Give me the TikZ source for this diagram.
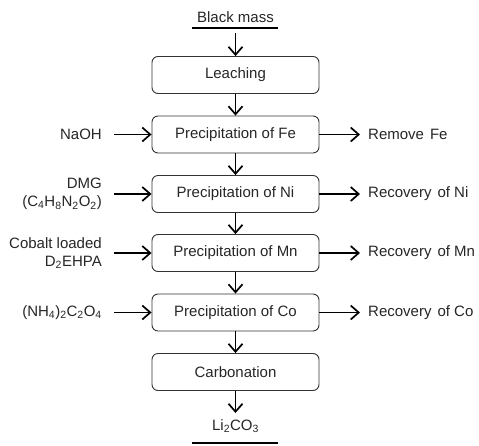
\documentclass[tikz,border=0pt]{standalone}
\usepackage{fontspec}
\setmainfont{Liberation Sans}
\usetikzlibrary{arrows.meta}
\newcommand\chsub[1]{\textsubscript{#1}}
\begin{document}
\begin{tikzpicture}[x=1pt,y=-1pt,
  every node/.style={font=\fontsize{15}{19}\selectfont, text=black!85},
  stepbox/.style={draw=black!80, line width=0.9pt, rounded corners=6pt,
    minimum width=167pt, minimum height=37pt, inner sep=0pt},
  flow/.style={line width=1.7pt, -{Straight Barb[length=8pt,width=14pt,line width=1.7pt]}},
  sidein/.style={anchor=east, align=right, inner sep=0pt},
  sideout/.style={anchor=west, inner sep=0pt}]
  \useasboundingbox (0,0) rectangle (479,445);

  % products at top and bottom
  \node[inner sep=0pt] (bm) at (235.5,17) {Black mass};
  \draw[line width=1.3pt] (192,28) -- (278,28);
  \coordinate (bmout) at (235.5,33);
  \node[inner sep=0pt] (li) at (235.5,426) {Li\chsub{2}CO\chsub{3}};
  \draw[line width=1.6pt] (192,443) -- (278,443);
  \coordinate (liin) at (235.5,413);

  % process steps
  \node[stepbox] (leach) at (235.5,75)   {Leaching};
  \node[stepbox] (fe)    at (235.5,134.5) {Precipitation of Fe};
  \node[stepbox] (ni)    at (235.5,194)  {Precipitation of Ni};
  \node[stepbox] (mn)    at (235.5,253)  {Precipitation of Mn};
  \node[stepbox] (co)    at (235.5,312.5) {Precipitation of Co};
  \node[stepbox] (carb)  at (235.5,372)  {Carbonation};

  \draw[flow] (bmout) -- (leach);
  \draw[flow] (leach) -- (fe);
  \draw[flow] (fe) -- (ni);
  \draw[flow] (ni) -- (mn);
  \draw[flow] (mn) -- (co);
  \draw[flow] (co) -- (carb);
  \draw[flow] (carb) -- (liin);

  % reagents
  \node[sidein] (r1) at (102,134.5) {NaOH};
  \node[sidein] (r2) at (102,194) {DMG\\[-1pt](C\chsub{4}H\chsub{8}N\chsub{2}O\chsub{2})};
  \node[sidein] (r3) at (102,253) {Cobalt loaded\\[-1pt]D\chsub{2}EHPA};
  \node[sidein] (r4) at (102,312.5) {(NH\chsub{4})\chsub{2}C\chsub{2}O\chsub{4}};
  \foreach \r/\s in {r1/fe, r2/ni, r3/mn, r4/co}
    \draw[flow] (114,0 |- \s.west) -- (\s.west);

  % outputs
  \node[sideout] (o1) at (368,134.5) {Remove\hspace{0.4em}Fe};
  \node[sideout] (o2) at (368,194) {Recovery\hspace{0.4em}of Ni};
  \node[sideout] (o3) at (368,253) {Recovery\hspace{0.4em}of Mn};
  \node[sideout] (o4) at (368,312.5) {Recovery\hspace{0.4em}of Co};
  \foreach \s/\o in {fe/o1, ni/o2, mn/o3, co/o4}
    \draw[flow] (\s.east) -- ([xshift=-8pt]\o.west);
\end{tikzpicture}
\end{document}
